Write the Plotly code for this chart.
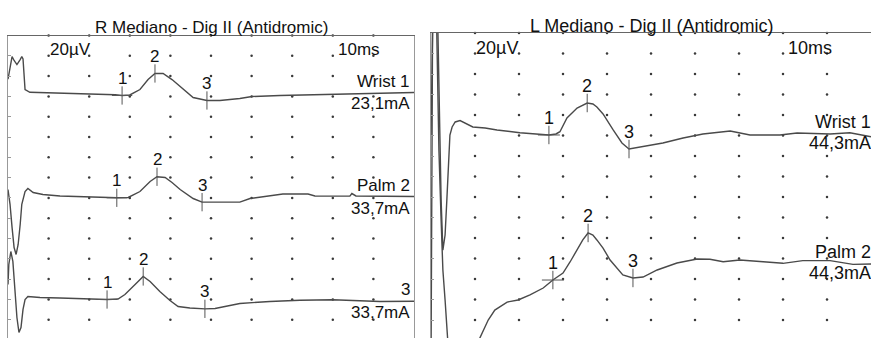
import numpy as np
import plotly.graph_objects as go

# ---------------- R Mediano - Dig II (Antidromic) ----------------
# time in ms, amplitude in µV relative to each trace's baseline
r_wrist_t = [0.00, 0.05, 0.10, 0.15, 0.22, 0.30, 0.34, 0.37, 0.42, 0.54, 1.03, 1.53, 2.02, 2.64,
             2.81, 3.00, 3.25, 3.45, 3.62, 3.82, 4.04, 4.24, 4.56, 4.90, 5.22, 5.71, 6.01, 6.70,
             7.19, 8.00, 8.99, 9.66, 10.0]
r_wrist_v = [17.0, 28.0, 39.3, 35.4, 31.4, 36.3, 39.3, 37.0, 6.8, 4.1, 3.5, 3.3, 2.9, 1.6,
             0.9, 1.4, 6.8, 16.6, 22.6, 22.6, 16.6, 9.8, -1.1, -4.0, -4.0, -2.1, -0.1, 0.9,
             1.4, 1.9, 3.3, 3.8, 3.8]

r_palm_t = [0.00, 0.05, 0.10, 0.15, 0.20, 0.25, 0.30, 0.34, 0.42, 0.49, 0.62, 0.86, 1.28, 2.02,
            2.68, 2.96, 3.25, 3.50, 3.67, 3.87, 4.04, 4.24, 4.56, 4.78, 5.22, 5.71, 5.96, 6.77,
            7.39, 7.56, 8.42, 8.47, 8.57, 9.16, 10.0]
r_palm_v = [8.3, -6.3, -29.0, -48.9, -55.7, -45.9, -26.2, -6.3, 6.3, 9.3, 5.3, 3.3, 1.9, 0.7,
            0.1, 0.4, 6.3, 16.2, 20.8, 20.1, 15.2, 8.3, -0.6, -4.2, -4.5, -4.2, -0.6, 3.8,
            3.8, 1.9, 1.7, 4.3, 1.9, 1.4, 1.4]

r_site3_t = [0.00, 0.02, 0.07, 0.12, 0.17, 0.22, 0.27, 0.32, 0.37, 0.42, 0.49, 0.79, 1.28, 2.02,
             2.44, 2.71, 2.88, 3.13, 3.33, 3.50, 3.74, 3.99, 4.19, 4.48, 4.85, 5.10, 5.27, 5.71,
             6.45, 7.19, 8.00, 8.67, 9.16, 10.0]
r_site3_v = [14.7, 34.4, 47.2, 37.4, 9.8, -17.8, -32.6, -27.7, -9.9, -0.1, 2.9, 1.9, 1.4, 0.4,
             -0.1, 0.4, 4.8, 14.7, 22.6, 17.6, 7.8, -1.1, -7.0, -8.5, -9.3, -9.0, -7.5, -4.0,
             -2.1, -0.8, -0.4, -1.1, -2.1, -1.8]

r_names = ["Wrist 1", "Palm 2", "3"]
r_currents = ["23,1mA", "33,7mA", "33,7mA"]
r_offsets = [-60, -160, -260]          # baseline position on the display, µV
r_latencies = [[2.81, 3.62, 4.90], [2.68, 3.67, 4.78], [2.44, 3.33, 4.85]]

# ---------------- L Mediano - Dig II (Antidromic) ----------------
l_wrist_t = [0.00, 0.05, 0.14, 0.18, 0.23, 0.27, 0.32, 0.36, 0.41, 0.43, 0.48, 0.55, 0.66, 0.84,
             0.95, 1.23, 1.50, 2.02, 2.48, 2.68, 2.84, 2.93, 3.09, 3.32, 3.55, 3.68, 3.77, 3.91,
             4.14, 4.34, 4.50, 4.82, 5.27, 5.73, 6.18, 6.80, 7.25, 7.93, 8.32, 9.07, 9.52, 10.0]
l_wrist_v = [0.0, 140.0, 140.0, 34.6, -63.0, -111.8, -97.1, -63.0, -23.9, 0.5, 8.3, 13.2, 14.6, 10.2,
             8.3, 7.3, 5.4, 2.7, 1.5, 0.5, 1.5, 3.7, 17.1, 26.8, 31.7, 30.7, 27.8, 21.0,
             5.4, -7.3, -13.2, -10.9, -7.3, -2.4, 1.5, 4.4, 0.5, 0.5, 2.4, 1.5, 2.7, -1.2]

l_palm_t = [0.00, 0.04, 0.11, 0.18, 0.23, 0.27, 0.32, 0.36, 0.41, 0.55, 0.77, 1.00, 1.11, 1.30,
            1.45, 1.73, 1.98, 2.25, 2.55, 2.77, 3.00, 3.16, 3.32, 3.45, 3.57, 3.68, 3.77, 3.91,
            4.07, 4.23, 4.36, 4.59, 4.82, 5.14, 5.59, 6.05, 6.34, 6.64, 7.02, 7.55, 8.00, 8.45,
            9.07, 9.59, 10.0]
l_palm_v = [-110.0, 270.0, 270.0, 105.9, 37.6, -11.2, -40.5, -69.8, -99.1, -138.0, -128.0, -94.2, -77.6, -60.0,
            -50.3, -42.5, -40.5, -35.6, -28.8, -21.0, -14.2, -3.4, 8.3, 18.1, 24.9, 22.9, 18.1, 10.2,
            -1.5, -10.2, -16.1, -19.0, -18.1, -11.2, -4.4, -0.5, -0.8, -3.1, -1.5, -3.1, -4.7, -2.1,
            -2.1, -5.7, -5.4]

l_names = ["Wrist 1", "Palm 2"]
l_currents = ["44,3mA", "44,3mA"]
l_offsets = [-100, -220]
l_latencies = [[2.68, 3.55, 4.50], [2.77, 3.57, 4.59]]

sensitivity_label = "20µV"
sweep_label = "10ms"
titles = ["R Mediano - Dig II (Antidromic)", "L Mediano - Dig II (Antidromic)"]

# ---------------- drawing ----------------
W, H = 871, 338
FONT = "Liberation Sans, Arial, sans-serif"
TXT = "#111111"
TRACE = "#4a4a4a"

fig = go.Figure()
annotations = []

panels = [
    dict(xa="x", ya="y", left=8, right=414, top=35.5, px_div=20.3, fs=17,
         traces=[(r_wrist_t, r_wrist_v), (r_palm_t, r_palm_v), (r_site3_t, r_site3_v)],
         names=r_names, currents=r_currents, offsets=r_offsets, lat=r_latencies,
         name_shift=[15, 12, 10], cur_shift=[-7, -11, -13], label_xshift=-2,
         title_y=28),
    dict(xa="x2", ya="y2", left=431, right=871, top=33, px_div=20.5, fs=18,
         traces=[(l_wrist_t, l_wrist_v), (l_palm_t, l_palm_v)],
         names=l_names, currents=l_currents, offsets=l_offsets, lat=l_latencies,
         name_shift=[14, 6.5], cur_shift=[-7.5, -14.5], label_xshift=2,
         title_y=25.5),
]

layout_axes = {}
for i, p in enumerate(panels):
    sfx = "" if i == 0 else "2"
    ybottom = -(H - p["top"]) / p["px_div"] * 20.0
    layout_axes["xaxis" + sfx] = dict(
        domain=[p["left"] / W, p["right"] / W], range=[0, 10], anchor="y" + sfx,
        side="top", showline=True, linecolor="#666", linewidth=1,
        showgrid=False, zeroline=False, showticklabels=False, ticks="", fixedrange=True)
    layout_axes["yaxis" + sfx] = dict(
        domain=[0, (H - p["top"]) / H], range=[ybottom, 0], anchor="x" + sfx,
        showline=True, linecolor="#999", linewidth=1, mirror=(i == 0),
        ticks="inside", ticklen=3, tickcolor="#999", tick0=0, dtick=20,
        showgrid=False, zeroline=False, showticklabels=False, fixedrange=True)

    # dotted grid at every division
    gx, gy = np.meshgrid(np.arange(1, 10), np.arange(0, ybottom, -20.0))
    fig.add_trace(go.Scatter(x=gx.ravel(), y=gy.ravel(), xaxis=p["xa"], yaxis=p["ya"],
                             mode="markers", marker=dict(size=2.5, color="#3a3a3a"),
                             hoverinfo="skip", showlegend=False, cliponaxis=False))

    for k, (t, v) in enumerate(p["traces"]):
        t = np.asarray(t)
        v = np.asarray(v) + p["offsets"][k]
        fig.add_trace(go.Scatter(x=t, y=v, xaxis=p["xa"], yaxis=p["ya"], mode="lines",
                                 line=dict(color=TRACE, width=1.4), hoverinfo="skip",
                                 showlegend=False))
        # cursor marks 1, 2, 3
        for m, lat in enumerate(p["lat"][k]):
            ym = float(np.interp(lat, t, v))
            fig.add_trace(go.Scatter(x=[lat, lat], y=[ym - 9, ym + 9], xaxis=p["xa"], yaxis=p["ya"],
                                     mode="lines", line=dict(color="#555", width=1),
                                     hoverinfo="skip", showlegend=False))
            if m == 0:
                fig.add_trace(go.Scatter(x=[lat - 0.25, lat + 0.25], y=[ym, ym],
                                         xaxis=p["xa"], yaxis=p["ya"], mode="lines",
                                         line=dict(color="#555", width=1),
                                         hoverinfo="skip", showlegend=False))
            annotations.append(dict(x=lat, y=ym, xref=p["xa"], yref=p["ya"], text=str(m + 1),
                                    showarrow=False, yshift=17, xanchor="center", yanchor="middle",
                                    font=dict(family=FONT, size=p["fs"], color=TXT)))
        base = p["offsets"][k]
        annotations.append(dict(x=10, y=base, xref=p["xa"], yref=p["ya"], text=p["names"][k],
                                showarrow=False, xanchor="right", yanchor="middle",
                                xshift=p["label_xshift"], yshift=p["name_shift"][k],
                                font=dict(family=FONT, size=p["fs"], color=TXT)))
        annotations.append(dict(x=10, y=base, xref=p["xa"], yref=p["ya"], text=p["currents"][k],
                                showarrow=False, xanchor="right", yanchor="middle",
                                xshift=p["label_xshift"], yshift=p["cur_shift"][k],
                                font=dict(family=FONT, size=p["fs"], color=TXT)))

    # scale annotations and panel title
    annotations.append(dict(x=1, y=0, xref=p["xa"], yref=p["ya"], text=sensitivity_label,
                            showarrow=False, xanchor="left", yanchor="middle", xshift=-1,
                            yshift=-(14 if i == 0 else 15),
                            font=dict(family=FONT, size=p["fs"], color=TXT)))
    annotations.append(dict(x=8, y=0, xref=p["xa"], yref=p["ya"], text=sweep_label,
                            showarrow=False, xanchor="left", yanchor="middle", xshift=3,
                            yshift=-(14 if i == 0 else 15),
                            font=dict(family=FONT, size=p["fs"], color=TXT)))
    annotations.append(dict(x=(p["left"] + p["right"]) / 2 / W, y=1 - p["title_y"] / H,
                            xref="paper", yref="paper", text=titles[i], showarrow=False,
                            xanchor="center", yanchor="middle",
                            font=dict(family=FONT, size=p["fs"], color=TXT)))

fig.update_layout(width=W, height=H, margin=dict(l=0, r=0, t=0, b=0),
                  paper_bgcolor="white", plot_bgcolor="white", showlegend=False,
                  annotations=annotations, **layout_axes)

fig.write_html("out.html", config={"displayModeBar": False})
